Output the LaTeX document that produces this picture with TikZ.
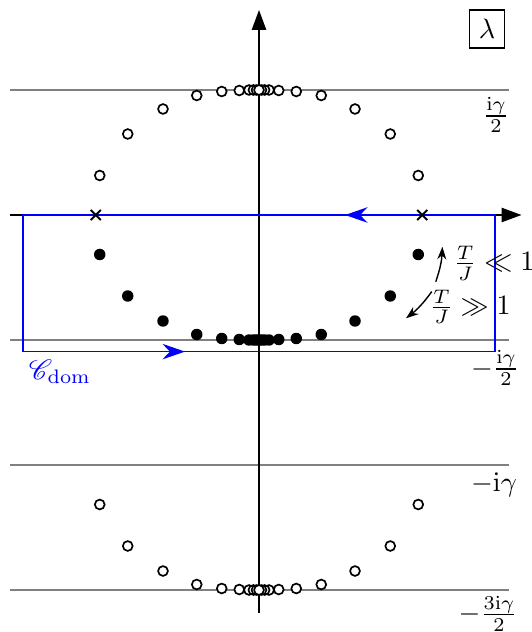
\documentclass[tikz,border=0pt]{standalone}
\usepackage{amsmath,amssymb}
\usepackage{mathrsfs}
\usetikzlibrary{arrows.meta}

\tikzset{
  level/.style={gray,line width=0.5pt},
  axis/.style={line width=0.5pt,-{Triangle[length=0.25cm,width=0.18cm]}},
  contour/.style={blue,line width=0.6pt},
  contourtip/.style={blue,line width=0.6pt,-{Stealth[length=8pt,width=5.5pt]}},
  fulldot/.style={fill=black},
  opendot/.style={draw=black,fill=white,line width=0.6pt},
  flow/.style={line width=0.5pt,->,>={Stealth[length=4.5pt,width=3.2pt]}},
}

\begin{document}
\begin{tikzpicture}[x=1.568cm,y=1.568cm,>=Stealth]
\useasboundingbox (-2.072,-3.336) rectangle (2.176,1.72);
% horizontal levels
\foreach \yl in {1,-1,-2,-3} \draw[level] (-1.99,\yl) -- (2.0,\yl);
% axes
\coordinate (xl) at (-1.99,0); \coordinate (xr) at (2.1,0);
\coordinate (yb) at (0,-3.18); \coordinate (yt) at (0,1.64);
\draw[axis] (xl) -- (xr);
\draw[axis] (yb) -- (yt);
% contour
\coordinate (c1) at (-1.89,0); \coordinate (c2) at (1.89,0);
\coordinate (c3) at (1.89,-1.093); \coordinate (c4) at (-1.89,-1.093);
\draw[contour] (c1) -- (c2) -- (c3) -- (c4) -- cycle;
\coordinate (ta) at (0.95,0); \coordinate (tb) at (0.688,0);
\coordinate (ba) at (-0.85,-1.093); \coordinate (bb) at (-0.592,-1.093);
\draw[contourtip] (ta) -- (tb);
\draw[contourtip] (ba) -- (bb);
\node[blue] (cdom) at (-1.592,-1.256) {$\mathscr{C}_{\mathrm{dom}}$};
% endpoints
\foreach \s in {-1,1} {
  \draw[line width=0.65pt] (\s*1.306,0) ++(-1.8pt,-1.8pt) -- ++(3.6pt,3.6pt) ++(-3.6pt,0) -- ++(3.6pt,-3.6pt);
}
% roots
\foreach \x/\y in {1.274/0.316,1.050/0.648,0.768/0.848,0.498/0.956,0.298/0.988,0.158/0.996,0.08/1,0.045/1,0.02/1} {
  \foreach \s in {-1,1} {
    \fill[fulldot] (\s*\x,-\y) circle (2.05pt);
    \draw[opendot] (\s*\x,\y) circle (1.75pt);
    \draw[opendot] (\s*\x,-\y-2) circle (1.75pt);
  }
}
\fill[fulldot] (0,-1) circle (2.05pt);
\draw[opendot] (0,1) circle (1.75pt);
\draw[opendot] (0,-3) circle (1.75pt);
% flow with temperature
\coordinate (ua) at (1.414,-0.534); \coordinate (ub) at (1.467,-0.254);
\coordinate (da) at (1.382,-0.613); \coordinate (db) at (1.176,-0.826);
\draw[flow] (ua) to[bend right=8] (ub);
\draw[flow] (da) to[bend left=8] (db);
\node (low) at (1.88,-0.385) {$\frac{T}{J}\ll 1$};
\node (high) at (1.69,-0.735) {$\frac{T}{J}\gg 1$};
% level labels
\node (l1) at (1.896,0.8) {$\frac{\mathrm{i}\gamma}{2}$};
\node (l2) at (1.888,-1.224) {$-\frac{\mathrm{i}\gamma}{2}$};
\node (l3) at (1.88,-2.16) {$-\mathrm{i}\gamma$};
\node (l4) at (1.832,-3.19) {$-\frac{3\mathrm{i}\gamma}{2}$};
% plane
\node[draw,line width=0.5pt] (plane) at (1.824,1.488) {$\lambda$};
\end{tikzpicture}
\end{document}
